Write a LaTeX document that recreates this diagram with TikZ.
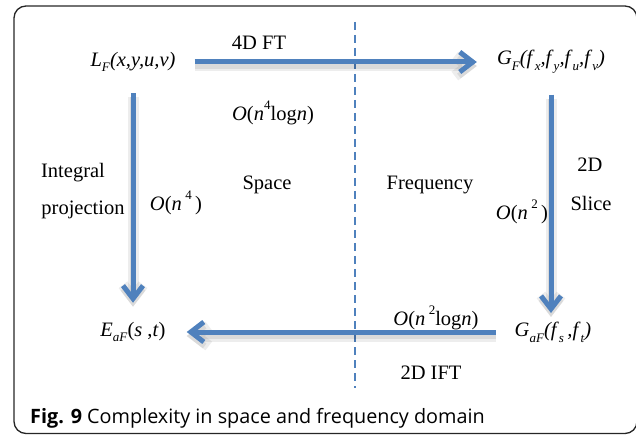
\documentclass[tikz,border=0pt]{standalone}
\usepackage{fontspec}
\setmainfont{Liberation Serif}
\newfontfamily\capfont{Open Sans}
\usetikzlibrary{arrows.meta}
\definecolor{arrowblue}{RGB}{79,129,189}
\newcommand\sbs[1]{\raisebox{-0.28em}{\fontsize{13}{13}\selectfont #1}}
\newcommand\sps[1]{\raisebox{0.5em}{\fontsize{13}{13}\selectfont #1}}
\begin{document}
\begin{tikzpicture}[x=1pt,y=-1pt,
  lbl/.style={font=\fontsize{20.5}{24}\selectfont, inner sep=0pt},
  bigarrow/.style={draw=arrowblue, line width=5pt,
    -{Straight Barb[length=13pt,width=20pt,line cap=butt,line join=miter]},
    preaction={draw=black, draw opacity=0.07, line width=11pt,
      transform canvas={yshift=-4pt}},
    preaction={draw=black, draw opacity=0.08, line width=6pt,
      transform canvas={yshift=-4pt}}},
  dividerline/.style={draw=arrowblue, line width=1.4pt, dash pattern=on 8pt off 5pt},
  frameline/.style={draw=black!85, line width=1.3pt, rounded corners=12pt}]
\useasboundingbox (0,0) rectangle (636,435);
\draw[frameline] (14,6) rectangle (637,433.5);

% divider
\coordinate (dtop) at (355,22);
\coordinate (dbot) at (355,388);
\draw[dividerline] (dtop) -- (dbot);

% main nodes
\node[lbl] (L) at (133,62) {\textit{L}\sbs{\textit{F}}\textit{(x,y,u,v)}};
\node[lbl] (G) at (551,62) {\textit{G}\sbs{\textit{F}}\textit{(f}\sbs{\textit{x}}\textit{,f}\sbs{\textit{y}}\textit{,f}\sbs{\textit{u}}\textit{,f}\sbs{\textit{v}}\textit{)}};
\node[lbl] (E) at (133,332) {\textit{E}\sbs{\textit{aF}}(\textit{s} ,\textit{t})};
\node[lbl] (Ga) at (553,332) {\textit{G}\sbs{\textit{aF}}\textit{(f}\sbs{\textit{s}}\,\textit{,f}\sbs{\textit{t}}\textit{)}};

% connectors
\draw[bigarrow, shorten <=19pt, shorten >=20pt] (L) -- (G);
\draw[bigarrow, shorten <=21pt, shorten >=19pt] (L) -- (E);
\draw[bigarrow, shorten <=21pt, shorten >=19pt] (G) -- (G |- Ga);
\draw[bigarrow, shorten <=19pt, shorten >=21pt] (Ga) -- (E);

% labels
\node[lbl] (ft) at (259,43) {4D FT};
\node[lbl] (c1) at (273,113) {\textit{O}(\textit{n}\sps{4}log\textit{n})};
\node[lbl] (ip1) at (73,173) {Integral};
\node[lbl] (ip2) at (83,210) {projection};
\node[lbl] (c2) at (176,203) {\textit{O}(\textit{n}\,\sps{4}\,)};
\node[lbl] (sp) at (267,185) {Space};
\node[lbl] (fr) at (430,185) {Frequency};
\node[lbl] (c3) at (522,212) {\textit{O}(\textit{n}\,\sps{2}\,)};
\node[lbl] (sl1) at (590,165) {2D};
\node[lbl] (sl2) at (591,203) {Slice};
\node[lbl] (c4) at (436,318) {\textit{O}(\textit{n}\,\sps{2}log\textit{n})};
\node[lbl] (ift) at (431,373) {2D IFT};

% caption
\node[anchor=west, inner sep=0pt, font=\capfont\fontsize{19.8}{23}\selectfont] (cap) at (30,418)
  {\textbf{Fig. 9} Complexity in space and frequency domain};
\end{tikzpicture}
\end{document}
